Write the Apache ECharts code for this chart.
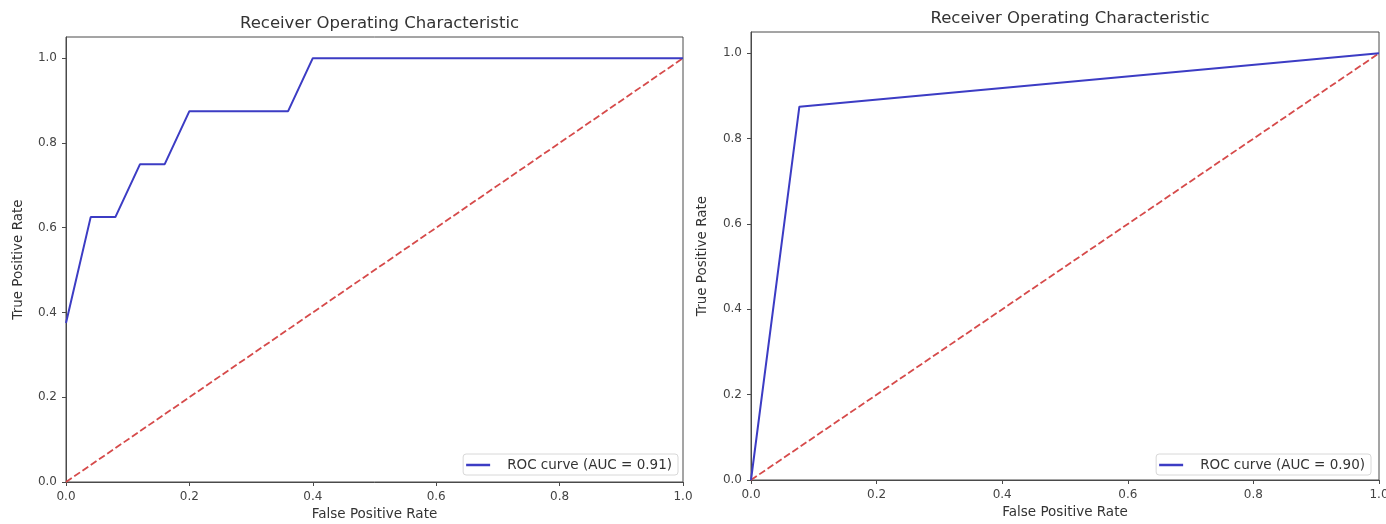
<!DOCTYPE html>
<html>
<head>
<meta charset="utf-8">
<script src="https://cdn.jsdelivr.net/npm/echarts@6/dist/echarts.min.js"></script>
<style>
html,body{margin:0;padding:0;background:#fff;overflow:hidden;}
#chart{width:1386px;height:524px;}
</style>
</head>
<body>
<div id="chart"></div>
<script>
// ---- data ----
const tickValues = [0, 0.2, 0.4, 0.6, 0.8, 1.0];
const tickLabels = ['0.0', '0.2', '0.4', '0.6', '0.8', '1.0'];
const chartTitle = 'Receiver Operating Characteristic';
const xAxisTitle = 'False Positive Rate';
const yAxisTitle = 'True Positive Rate';

const leftFpr = [0, 0.04, 0.08, 0.12, 0.16, 0.20, 0.36, 0.40, 1.0];
const leftTpr = [0.375, 0.625, 0.625, 0.75, 0.75, 0.875, 0.875, 1.0, 1.0];
const leftName = 'ROC curve (AUC = 0.91)';

const rightFpr = [0, 0.077, 1.0];
const rightTpr = [0, 0.875, 1.0];
const rightName = 'ROC curve (AUC = 0.90)';

const diagX = [0, 1];
const diagY = [0, 1];

// ---- build ----
const zip = (a, b) => a.map((v, i) => [v, b[i]]);
const font = 'DejaVu Sans';
const txt = '#333';
const blue = '#3c3cc4';
const red = '#d64a4a';
const axisColor = '#4a4a4a';

const grids = [
  {left: 66, top: 37, width: 617, height: 445},
  {left: 751, top: 32, width: 628, height: 448}
];

const labelFmt = v => tickLabels[tickValues.indexOf(Math.round(v * 10) / 10)] ?? '';

function xAx(i) {
  return {
    type: 'value', gridIndex: i, min: 0, max: 1.0,
    name: xAxisTitle, nameLocation: 'middle', nameGap: 24,
    nameTextStyle: {fontFamily: font, fontSize: 13.5, color: txt},
    axisLine: {show: true, lineStyle: {color: axisColor, width: 1}},
    axisTick: {show: true, length: 4, lineStyle: {color: axisColor}, customValues: tickValues},
    axisLabel: {fontFamily: font, fontSize: 12, color: '#444', margin: 9,
      customValues: tickValues, formatter: labelFmt},
    splitLine: {show: false}
  };
}
function yAx(i, gap) {
  return {
    type: 'value', gridIndex: i, min: 0, max: 1.05,
    name: yAxisTitle, nameLocation: 'middle', nameGap: gap,
    nameTextStyle: {fontFamily: font, fontSize: 13.5, color: txt},
    axisLine: {show: true, lineStyle: {color: axisColor, width: 1}},
    axisTick: {show: true, length: 4, lineStyle: {color: axisColor}, customValues: tickValues},
    axisLabel: {fontFamily: font, fontSize: 12, color: '#444', margin: 9,
      customValues: tickValues, formatter: labelFmt},
    splitLine: {show: false}
  };
}

function legend(name, right) {
  return {
    data: [name], right: right, bottom: 49, orient: 'horizontal',
    icon: 'rect', itemWidth: 24, itemHeight: 2.5,
    backgroundColor: '#fff', borderColor: '#d8d8d8', borderWidth: 1, borderRadius: 3,
    padding: [4, 6, 3, 3],
    textStyle: {fontFamily: font, fontSize: 13.5, color: txt, padding: [0, 0, 0, 12]}
  };
}

const option = {
  animation: false,
  backgroundColor: '#fff',
  title: [
    {text: chartTitle, left: 374.5, top: 10, textAlign: 'center',
      textStyle: {fontFamily: font, fontSize: 16.5, fontWeight: 'normal', color: txt}},
    {text: chartTitle, left: 1065, top: 5, textAlign: 'center',
      textStyle: {fontFamily: font, fontSize: 16.5, fontWeight: 'normal', color: txt}}
  ],
  grid: grids.map(g => Object.assign({show: true, borderColor: axisColor, borderWidth: 1,
    backgroundColor: '#fff', containLabel: false, outerBoundsMode: 'none'}, g)),
  xAxis: [xAx(0), xAx(1)],
  yAxis: [yAx(0, 41), yAx(1, 42)],
  legend: [legend(leftName, 708), legend(rightName, 15)],
  series: [
    {name: leftName, type: 'line', xAxisIndex: 0, yAxisIndex: 0, data: zip(leftFpr, leftTpr),
      showSymbol: false, lineStyle: {color: blue, width: 2}, itemStyle: {color: blue}, z: 3},
    {name: 'diag1', type: 'line', xAxisIndex: 0, yAxisIndex: 0, data: zip(diagX, diagY),
      showSymbol: false, lineStyle: {color: red, width: 1.8, type: [7, 3]}, itemStyle: {color: red}, z: 2},
    {name: rightName, type: 'line', xAxisIndex: 1, yAxisIndex: 1, data: zip(rightFpr, rightTpr),
      showSymbol: false, lineStyle: {color: blue, width: 2}, itemStyle: {color: blue}, z: 3},
    {name: 'diag2', type: 'line', xAxisIndex: 1, yAxisIndex: 1, data: zip(diagX, diagY),
      showSymbol: false, lineStyle: {color: red, width: 1.8, type: [7, 3]}, itemStyle: {color: red}, z: 2}
  ]
};

const chart = echarts.init(document.getElementById('chart'), null, {renderer: 'canvas'});
chart.setOption(option);
</script>
</body>
</html>
